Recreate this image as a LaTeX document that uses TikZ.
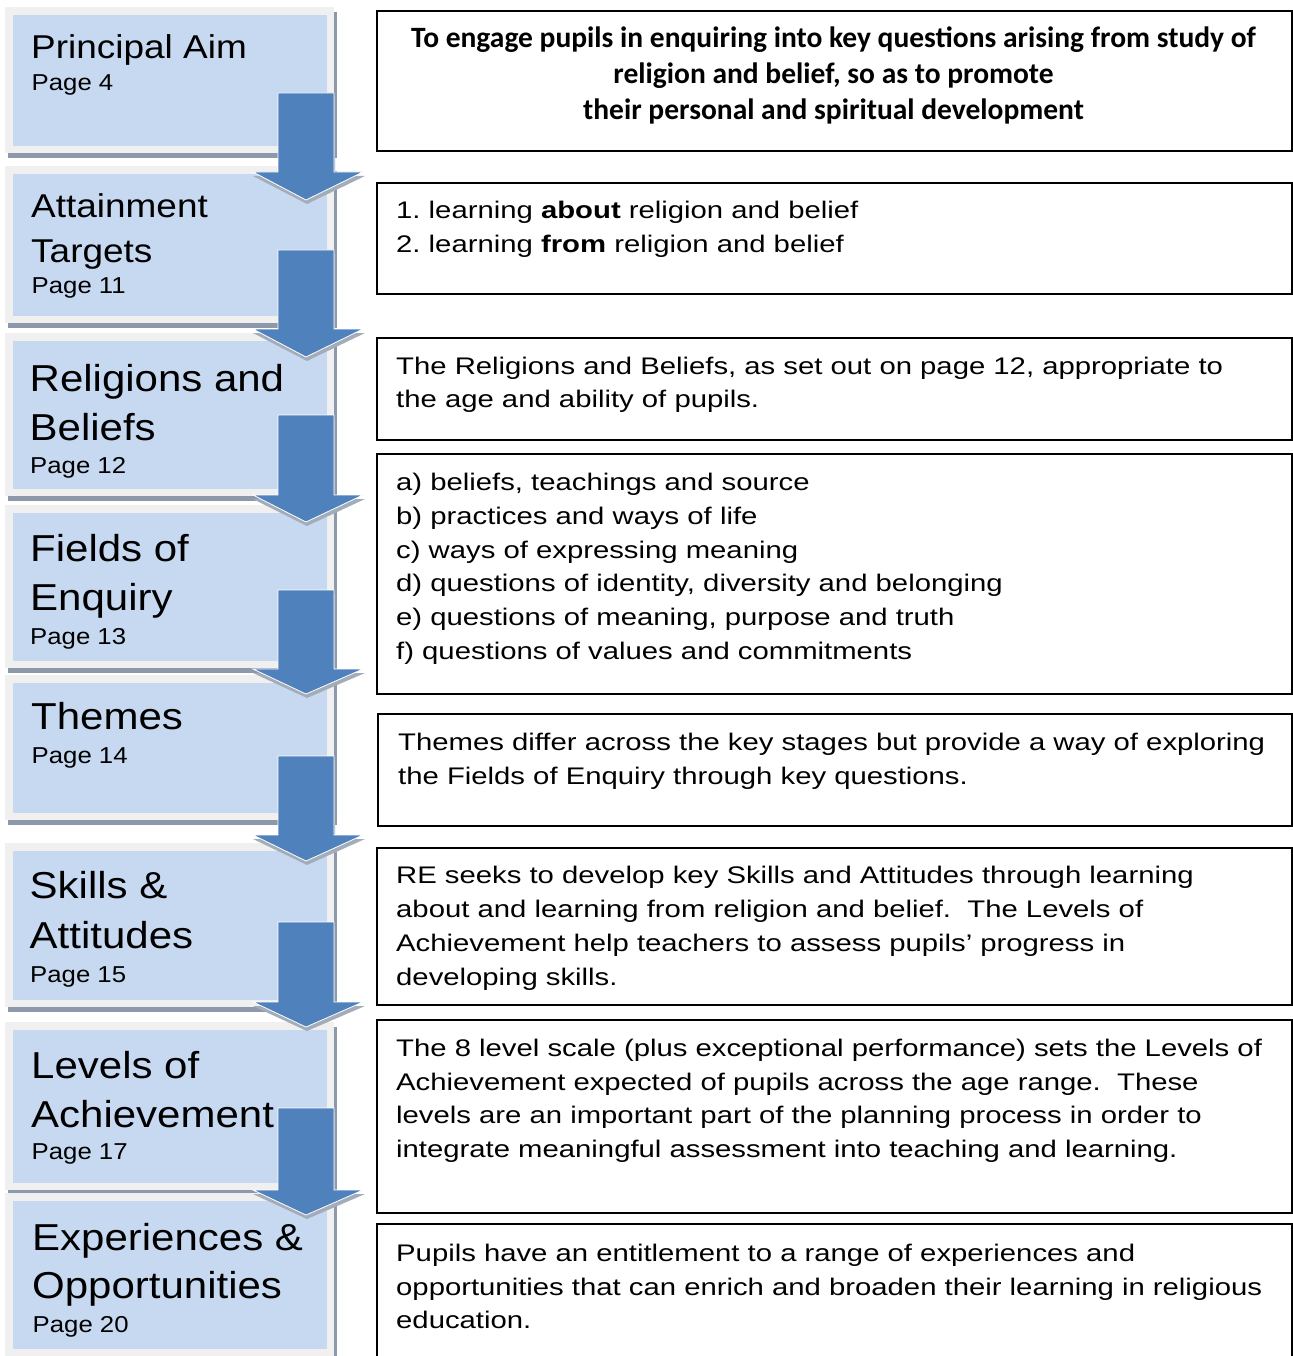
\documentclass[tikz,border=0pt]{standalone}
\usepackage{fontspec}
\setmainfont{Liberation Sans}
\newfontfamily\lftfont{Liberation Sans}[FakeStretch=1.12]
\newfontfamily\rgtfont{Liberation Sans}[FakeStretch=1.22]
\newfontfamily\calfont{Carlito}
\definecolor{boxblue}{HTML}{C6D9F1}
\definecolor{framegray}{HTML}{F0F0F0}
\definecolor{shadowgray}{HTML}{8D99AA}
\definecolor{arrowblue}{HTML}{4F81BD}
\definecolor{arrowshade}{HTML}{A3ADBA}
\tikzset{
  lshadow/.style={fill=shadowgray, draw=none, anchor=north west, inner sep=0pt, outer sep=0pt},
  lframe/.style={fill=framegray, draw=none, anchor=north west, inner sep=0pt, outer sep=0pt},
  lblue/.style={fill=boxblue, draw=none, anchor=north west, inner sep=0pt, outer sep=0pt},
  ltitle/.style={anchor=base west, inner sep=0pt, font=\lftfont\fontsize{37.5}{45}\selectfont},
  ltitlesmall/.style={anchor=base west, inner sep=0pt, font=\lftfont\fontsize{33}{40}\selectfont},
  lpage/.style={anchor=base west, inner sep=0pt, font=\lftfont\fontsize{23}{28}\selectfont},
  rbox/.style={draw=black, line width=1.6pt, fill=white, anchor=north west, inner sep=0pt},
  rtext/.style={anchor=base west, inner sep=0pt, font=\rgtfont\fontsize{24}{30}\selectfont},
  aimtext/.style={anchor=base, inner sep=0pt, font=\calfont\bfseries\fontsize{29.5}{36}\selectfont},
  arrowbody/.style={fill=arrowblue, draw=white, line width=0.8pt, line join=miter},
  arrowshadow/.style={fill=arrowshade, draw=none}
}
\newcommand\leftbox[3]{%
  \node[lshadow, minimum width=329, minimum height={#3-#2}] (#1s) at (8,{#2+5}) {};
  \node[lframe, minimum width=329, minimum height={#3-#2}] (#1) at (5,#2) {};
  \node[lblue, minimum width=314, minimum height={#3-#2-15}] (#1b) at (13,{#2+8}) {};
}
\newcommand\blockarr[3]{%
  \fill[arrowshadow, shift={(1,4)}] (278,#1) -- (334,#1) -- (334,#2) -- (364,#2) -- (306,#3) -- (252,#2) -- (278,#2) -- cycle;
  \draw[arrowbody] (278,#1) -- (334,#1) -- (334,#2) -- (363,#2) -- (306,#3) -- (253,#2) -- (278,#2) -- cycle;
}
\frenchspacing
\begin{document}
\begin{tikzpicture}[x=1pt,y=-1pt]
\useasboundingbox (0,0) rectangle (1292,1356);
\fill[white] (0,0) rectangle (1292,1356);

% left boxes
\leftbox{b1}{7}{153}
\leftbox{b2}{166}{323}
\leftbox{b3}{333}{496}
\leftbox{b4}{505}{668}
\leftbox{b5}{675}{820}
\leftbox{b6}{843}{1007}
\leftbox{b7}{1022}{1190}
\leftbox{b8}{1193}{1356}

% left texts
\node[ltitlesmall] (t1a) at (31,58.5) {Principal Aim};
\node[lpage] (t1p) at (31.5,90.7) {Page 4};
\node[ltitlesmall] (t2a) at (31,218) {Attainment};
\node[ltitlesmall] (t2b) at (31,262) {Targets};
\node[lpage] (t2p) at (31.5,293.5) {Page 11};
\node[ltitle] (t3a) at (29.5,391) {Religions and};
\node[ltitle] (t3b) at (29.5,440) {Beliefs};
\node[lpage] (t3p) at (30,473) {Page 12};
\node[ltitle] (t4a) at (30,561) {Fields of};
\node[ltitle] (t4b) at (30,610) {Enquiry};
\node[lpage] (t4p) at (30,644) {Page 13};
\node[ltitle] (t5a) at (31,729) {Themes};
\node[lpage] (t5p) at (31.5,763) {Page 14};
\node[ltitle] (t6a) at (29.5,898) {Skills \&};
\node[ltitle] (t6b) at (29.5,948) {Attitudes};
\node[lpage] (t6p) at (30,982.5) {Page 15};
\node[ltitle] (t7a) at (31,1078) {Levels of};
\node[ltitle] (t7b) at (31,1127.5) {Achievement};
\node[lpage] (t7p) at (31.5,1159) {Page 17};
\node[ltitle] (t8a) at (32,1250) {Experiences \&};
\node[ltitle] (t8b) at (32,1298) {Opportunities};
\node[lpage] (t8p) at (32.5,1332.5) {Page 20};

% arrows
\blockarr{93}{172}{200}
\blockarr{250}{329}{357}
\blockarr{415}{495}{522}
\blockarr{590}{669}{694}
\blockarr{756}{835}{861}
\blockarr{922}{1002}{1027}
\blockarr{1108}{1190}{1215}

% right boxes
\node[rbox, minimum width=915, minimum height=140] (r1) at (376,10) {};
\node[rbox, minimum width=915, minimum height=111] (r2) at (376,182) {};
\node[rbox, minimum width=915, minimum height=102] (r3) at (376,337) {};
\node[rbox, minimum width=915, minimum height=240] (r4) at (376,453) {};
\node[rbox, minimum width=914, minimum height=112] (r5) at (377,713) {};
\node[rbox, minimum width=915, minimum height=157] (r6) at (376,847) {};
\node[rbox, minimum width=915, minimum height=193] (r7) at (376,1019) {};
\node[rbox, minimum width=915, minimum height=150] (r8) at (376,1223) {};

% right texts
\node[aimtext] (a1) at (833.5,48) {To engage pupils in enquiring into key questions arising from study of};
\node[aimtext] (a2) at (833.5,84) {religion and belief, so as to promote};
\node[aimtext] (a3) at (833.5,120) {their personal and spiritual development};

\node[rtext] (x21) at (396,218.3) {1. learning \textbf{about} religion and belief};
\node[rtext] (x22) at (396,253) {2. learning \textbf{from} religion and belief};

\node[rtext] (x31) at (396,374) {The Religions and Beliefs, as set out on page 12, appropriate to};
\node[rtext] (x32) at (396,407.5) {the age and ability of pupils.};

\node[rtext] (x41) at (396,490) {a) beliefs, teachings and source};
\node[rtext] (x42) at (396,524) {b) practices and ways of life};
\node[rtext] (x43) at (396,558) {c) ways of expressing meaning};
\node[rtext] (x44) at (396,591.5) {d) questions of identity, diversity and belonging};
\node[rtext] (x45) at (396,625) {e) questions of meaning, purpose and truth};
\node[rtext] (x46) at (396,659) {f) questions of values and commitments};

\node[rtext] (x51) at (398,750) {Themes differ across the key stages but provide a way of exploring};
\node[rtext] (x52) at (398,784) {the Fields of Enquiry through key questions.};

\node[rtext] (x61) at (396,883) {RE seeks to develop key Skills and Attitudes through learning};
\node[rtext] (x62) at (396,917) {about and learning from religion and belief.~ The Levels of};
\node[rtext] (x63) at (396,951) {Achievement help teachers to assess pupils’ progress in};
\node[rtext] (x64) at (396,985) {developing skills.};

\node[rtext] (x71) at (396,1056) {The 8 level scale (plus exceptional performance) sets the Levels of};
\node[rtext] (x72) at (396,1090) {Achievement expected of pupils across the age range.~ These};
\node[rtext] (x73) at (396,1123.5) {levels are an important part of the planning process in order to};
\node[rtext] (x74) at (396,1157) {integrate meaningful assessment into teaching and learning.};

\node[rtext] (x81) at (396,1261) {Pupils have an entitlement to a range of experiences and};
\node[rtext] (x82) at (396,1295) {opportunities that can enrich and broaden their learning in religious};
\node[rtext] (x83) at (396,1328.5) {education.};
\end{tikzpicture}
\end{document}
